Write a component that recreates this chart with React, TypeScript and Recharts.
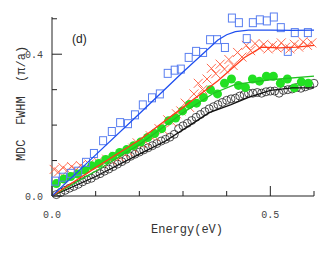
import { ComposedChart, Scatter, XAxis, YAxis } from "recharts";

// axis ticks
const xTicks = [0, 0.1, 0.2, 0.3, 0.4, 0.5, 0.6];
const xTickLabels = ["0.0", "", "", "", "", "0.5", ""];
const yTicks = [0, 0.1, 0.2, 0.3, 0.4, 0.5];
const yTickLabels = ["0.0", "", "", "", "0.4", ""];

// blue squares
const blueE = [0.007, 0.025, 0.043, 0.06, 0.078, 0.096, 0.117, 0.137, 0.156, 0.174, 0.19, 0.208, 0.229, 0.247, 0.265, 0.281, 0.295, 0.313, 0.33, 0.346, 0.362, 0.378, 0.396, 0.412, 0.428, 0.446, 0.46, 0.476, 0.492, 0.508, 0.524, 0.54, 0.556, 0.586];
const blueW = [0.042, 0.053, 0.064, 0.07, 0.095, 0.12, 0.156, 0.182, 0.207, 0.204, 0.229, 0.257, 0.277, 0.288, 0.346, 0.355, 0.358, 0.391, 0.408, 0.405, 0.441, 0.441, 0.419, 0.502, 0.489, 0.444, 0.489, 0.497, 0.494, 0.505, 0.475, 0.408, 0.461, 0.461];
const blueFitE = [0, 0.1, 0.2, 0.3, 0.38, 0.4, 0.42, 0.45, 0.5, 0.55, 0.6];
const blueFitW = [0, 0.116, 0.232, 0.35, 0.44, 0.455, 0.464, 0.468, 0.468, 0.467, 0.468];

// red crosses
const redE = [0.005, 0.015, 0.025, 0.035, 0.045, 0.055, 0.065, 0.075, 0.085, 0.095, 0.105, 0.115, 0.125, 0.135, 0.145, 0.155, 0.165, 0.175, 0.185, 0.195, 0.205, 0.215, 0.225, 0.235, 0.245, 0.255, 0.265, 0.275, 0.285, 0.295, 0.305, 0.315, 0.325, 0.335, 0.345, 0.355, 0.365, 0.375, 0.385, 0.395, 0.405, 0.415, 0.425, 0.435, 0.445, 0.455, 0.465, 0.475, 0.485, 0.495, 0.505, 0.515, 0.525, 0.535, 0.545, 0.555, 0.565, 0.575, 0.585, 0.595];
const redW = [0.075, 0.068, 0.08, 0.072, 0.083, 0.074, 0.086, 0.078, 0.09, 0.084, 0.097, 0.093, 0.104, 0.101, 0.112, 0.11, 0.121, 0.125, 0.135, 0.15, 0.148, 0.152, 0.17, 0.168, 0.19, 0.186, 0.215, 0.208, 0.232, 0.24, 0.262, 0.25, 0.288, 0.318, 0.3, 0.33, 0.36, 0.345, 0.372, 0.358, 0.385, 0.368, 0.405, 0.392, 0.425, 0.41, 0.43, 0.418, 0.428, 0.415, 0.425, 0.418, 0.432, 0.42, 0.415, 0.428, 0.42, 0.435, 0.425, 0.432];
const redFitE = [0, 0.1, 0.2, 0.3, 0.38, 0.44, 0.48, 0.52, 0.56, 0.6];
const redFitW = [0, 0.08, 0.158, 0.25, 0.325, 0.39, 0.42, 0.418, 0.42, 0.425];

// green dots
const greenE = [0.01, 0.027, 0.043, 0.059, 0.075, 0.091, 0.107, 0.123, 0.139, 0.155, 0.171, 0.187, 0.203, 0.219, 0.235, 0.251, 0.267, 0.283, 0.299, 0.315, 0.331, 0.347, 0.363, 0.379, 0.395, 0.411, 0.427, 0.443, 0.459, 0.475, 0.491, 0.507, 0.523, 0.539, 0.555, 0.571, 0.587];
const greenW = [0.035, 0.048, 0.055, 0.062, 0.073, 0.085, 0.092, 0.103, 0.112, 0.123, 0.131, 0.142, 0.152, 0.165, 0.176, 0.19, 0.212, 0.22, 0.24, 0.258, 0.262, 0.278, 0.3, 0.288, 0.318, 0.33, 0.312, 0.306, 0.33, 0.324, 0.338, 0.338, 0.318, 0.33, 0.305, 0.322, 0.318];
const greenFitE = [0, 0.1, 0.2, 0.3, 0.37, 0.42, 0.5, 0.6];
const greenFitW = [0, 0.07, 0.145, 0.235, 0.29, 0.315, 0.328, 0.338];

// black circles
const blackE = [0.01, 0.02, 0.03, 0.04, 0.05, 0.06, 0.07, 0.08, 0.09, 0.1, 0.11, 0.12, 0.13, 0.14, 0.15, 0.16, 0.17, 0.18, 0.19, 0.2, 0.21, 0.22, 0.23, 0.24, 0.25, 0.26, 0.27, 0.28, 0.29, 0.3, 0.31, 0.32, 0.33, 0.34, 0.35, 0.36, 0.37, 0.38, 0.39, 0.4, 0.41, 0.42, 0.43, 0.44, 0.45, 0.46, 0.47, 0.48, 0.49, 0.5, 0.51, 0.52, 0.53, 0.54, 0.55, 0.56, 0.57, 0.58, 0.59, 0.6];
const blackW = [0.004, 0.01, 0.016, 0.022, 0.027, 0.033, 0.04, 0.046, 0.05, 0.058, 0.063, 0.07, 0.076, 0.083, 0.09, 0.097, 0.104, 0.112, 0.118, 0.124, 0.13, 0.136, 0.142, 0.148, 0.155, 0.16, 0.166, 0.174, 0.19, 0.198, 0.205, 0.213, 0.222, 0.23, 0.238, 0.246, 0.252, 0.258, 0.264, 0.27, 0.274, 0.276, 0.282, 0.286, 0.29, 0.29, 0.292, 0.29, 0.294, 0.296, 0.296, 0.29, 0.298, 0.3, 0.302, 0.306, 0.304, 0.308, 0.312, 0.318];
const blackFitE = [0, 0.1, 0.2, 0.26, 0.31, 0.36, 0.41, 0.45, 0.5, 0.55, 0.6];
const blackFitW = [0, 0.055, 0.118, 0.155, 0.195, 0.235, 0.258, 0.278, 0.298, 0.305, 0.305];

const pts = (e: number[], w: number[]) => e.map((x, i) => ({ e: x, w: w[i] }));

const FONT = "'Liberation Mono', 'DejaVu Sans Mono', monospace";
const AXIS = "#222";

const tickLen = (label: string) => (label ? 10 : 5);

const BottomTick = (p: any) => {
  const label = xTickLabels[xTicks.indexOf(p.payload.value)] ?? "";
  return (
    <g>
      <line x1={p.x} y1={p.y} x2={p.x} y2={p.y - tickLen(label)} stroke={AXIS} />
      {label && (
        <text x={p.x} y={p.y + 22} textAnchor="middle" fontFamily={FONT} fontSize={10} fill="#444">{label}</text>
      )}
    </g>
  );
};
const TopTick = (p: any) => {
  const label = xTickLabels[xTicks.indexOf(p.payload.value)] ?? "";
  return <line x1={p.x} y1={p.y} x2={p.x} y2={p.y + tickLen(label)} stroke={AXIS} />;
};
const LeftTick = (p: any) => {
  const label = yTickLabels[yTicks.indexOf(p.payload.value)] ?? "";
  return (
    <g>
      <line x1={p.x} y1={p.y} x2={p.x + tickLen(label)} y2={p.y} stroke={AXIS} />
      {label && (
        <text x={p.x - 9} y={p.y + 4} textAnchor="end" fontFamily={FONT} fontSize={10} fill="#444">{label}</text>
      )}
    </g>
  );
};
const RightTick = (p: any) => {
  const label = yTickLabels[yTicks.indexOf(p.payload.value)] ?? "";
  return <line x1={p.x} y1={p.y} x2={p.x - tickLen(label)} y2={p.y} stroke={AXIS} />;
};

const Square = (p: any) => (
  <rect x={p.cx - 3.5} y={p.cy - 4} width={7} height={8} fill="none" stroke="#5a7ff0" strokeWidth={1} />
);
const Cross = (p: any) => (
  <path d={`M${p.cx - 4.5},${p.cy - 4.5}L${p.cx + 4.5},${p.cy + 4.5}M${p.cx - 4.5},${p.cy + 4.5}L${p.cx + 4.5},${p.cy - 4.5}`} stroke="#ff5a3c" strokeWidth={0.9} />
);
const Dot = (p: any) => <circle cx={p.cx} cy={p.cy} r={4.5} fill="#22e022" />;
const Ring = (p: any) => <circle cx={p.cx} cy={p.cy} r={4} fill="none" stroke="#222" strokeWidth={0.8} />;
const NoShape = () => <g />;

const fitLine = (color: string) => ({ stroke: color, strokeWidth: 1.3 });

export default function App() {
  return (
    <div style={{ position: "absolute", left: 0, top: 0, width: 332, height: 254, background: "#fff" }}>
      <ComposedChart width={332} height={254} margin={{ top: 17, right: 18, left: 0, bottom: 0 }}>
        <XAxis xAxisId="b" dataKey="e" type="number" domain={[0, 0.6]} ticks={xTicks} height={58}
          axisLine={{ stroke: AXIS }} tickLine={false} tickSize={0} tickMargin={0} tick={BottomTick}
          label={(props: any) => {
            const vb = props.viewBox;
            return (
              <text x={vb.x + vb.width / 2 + 4} y={vb.y + 37} textAnchor="middle" fontFamily={FONT} fontSize={12} fill="#333">Energy(eV)</text>
            );
          }} />
        <XAxis xAxisId="t" orientation="top" dataKey="e" type="number" domain={[0, 0.6]} ticks={xTicks} height={0}
          axisLine={{ stroke: AXIS }} tickLine={false} tickSize={0} tickMargin={0} tick={TopTick} />
        <YAxis yAxisId="l" dataKey="w" type="number" domain={[0, 0.5]} ticks={yTicks} width={52}
          axisLine={{ stroke: AXIS }} tickLine={false} tickSize={0} tickMargin={0} tick={LeftTick}
          label={(props: any) => {
            const vb = props.viewBox;
            const cy = vb.y + vb.height / 2 - 3;
            return (
              <text x={22} y={cy} transform={`rotate(-90 22 ${cy})`} textAnchor="middle" dominantBaseline="central"
                fontFamily={FONT} fontSize={12} fill="#333" style={{ whiteSpace: "pre" }}>{"MDC  FWHM  (π/a)"}</text>
            );
          }} />
        <YAxis yAxisId="r" orientation="right" dataKey="w" type="number" domain={[0, 0.5]} ticks={yTicks} width={0}
          axisLine={{ stroke: AXIS }} tickLine={false} tickSize={0} tickMargin={0} tick={RightTick} />

        <Scatter xAxisId="b" yAxisId="l" data={pts(blackE, blackW)} dataKey="w" shape={Ring} isAnimationActive={false} />
        <Scatter xAxisId="b" yAxisId="l" data={pts(redE, redW)} dataKey="w" shape={Cross} isAnimationActive={false} />
        <Scatter xAxisId="b" yAxisId="l" data={pts(greenE, greenW)} dataKey="w" shape={Dot} isAnimationActive={false} />
        <Scatter xAxisId="b" yAxisId="l" data={pts(blueE, blueW)} dataKey="w" shape={Square} isAnimationActive={false} />

        <Scatter xAxisId="b" yAxisId="l" data={pts(blackFitE, blackFitW)} dataKey="w" shape={NoShape} line={fitLine("#111")} lineType="joint" isAnimationActive={false} />
        <Scatter xAxisId="b" yAxisId="l" data={pts(greenFitE, greenFitW)} dataKey="w" shape={NoShape} line={fitLine("#22c022")} lineType="joint" isAnimationActive={false} />
        <Scatter xAxisId="b" yAxisId="l" data={pts(redFitE, redFitW)} dataKey="w" shape={NoShape} line={fitLine("#ff3a1a")} lineType="joint" isAnimationActive={false} />
        <Scatter xAxisId="b" yAxisId="l" data={pts(blueFitE, blueFitW)} dataKey="w" shape={NoShape} line={fitLine("#1f4ff0")} lineType="joint" isAnimationActive={false} />
      </ComposedChart>
      <div style={{ position: "absolute", left: 72, top: 31, fontFamily: "'Liberation Sans', Arial, sans-serif", fontSize: 12, color: "#222", lineHeight: "16px" }}>(d)</div>
    </div>
  );
}
